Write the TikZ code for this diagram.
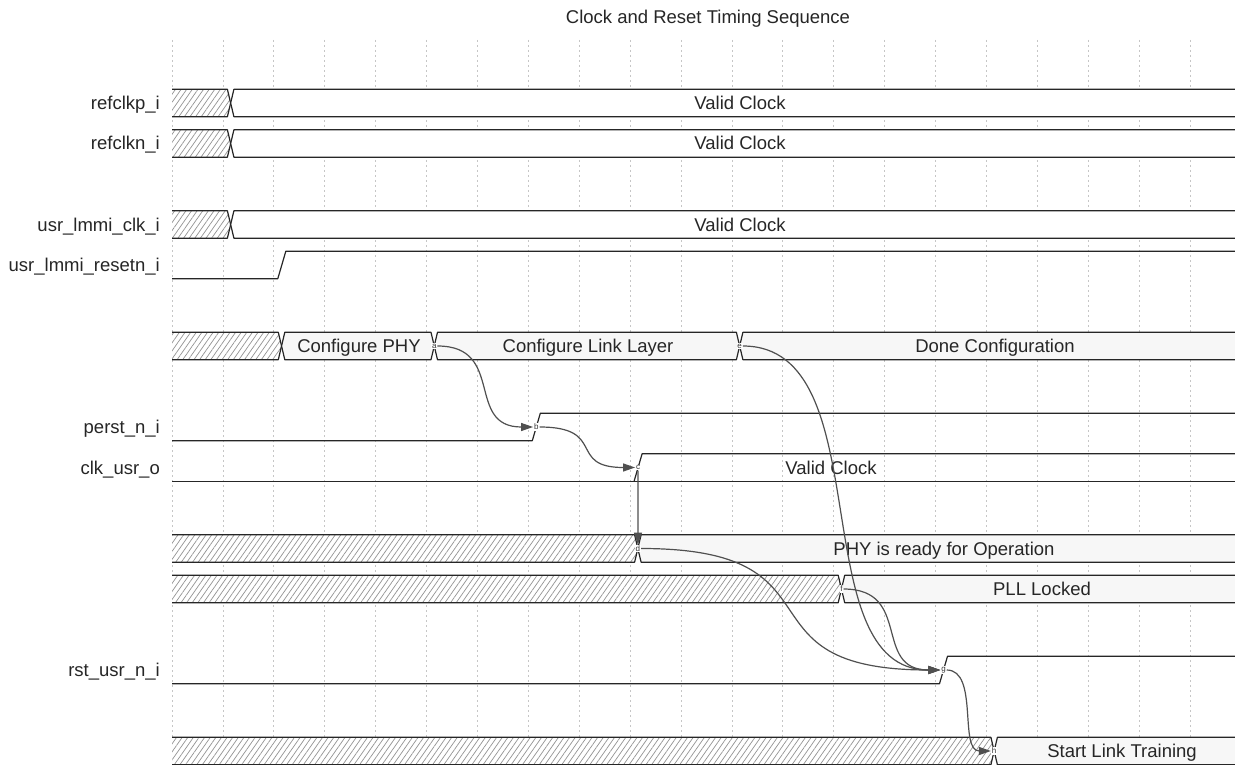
\documentclass[tikz,border=0pt]{standalone}
\usepackage{fontspec}
\setmainfont{Liberation Sans}
\usetikzlibrary{patterns.meta,arrows.meta,calc}
\definecolor{busfill}{RGB}{247,247,247}
\definecolor{arccol}{RGB}{80,80,80}
\tikzset{
  sig/.style={line width=1.2pt, draw=black!85, line join=round},
  gridline/.style={draw=gray!45, line width=0.8pt, dash pattern=on 2pt off 3pt},
  hatch/.style={preaction={fill=white}, pattern={Lines[angle=55,distance=4.6pt,line width=0.7pt]}, pattern color=gray!85},
  lbl/.style={font=\fontsize{18.5}{20}\selectfont, text=black!85, inner sep=0pt, anchor=base},
  siglbl/.style={lbl, anchor=base east},
  arc/.style={draw=arccol, line width=1.2pt, -{Triangle[length=12pt,width=8pt]}},
  pt/.style={font=\fontsize{8}{8}\selectfont, fill=white, inner sep=0.8pt, text=black!80},
}
% hatched segment from the left edge to the transition at grid x #2, row centre #1
\newcommand\hseg[2]{%
  \path[hatch] (172,#1-13.7) -- (#2+4.5,#1-13.7) -- (#2+7.75,#1) -- (#2+4.5,#1+13.7) -- (172,#1+13.7) -- cycle;
  \draw[sig] (172,#1-13.7) -- (#2+4.5,#1-13.7) -- (#2+7.75,#1) -- (#2+4.5,#1+13.7) -- (172,#1+13.7);
}
% data segment, row centre #1, from transition at grid #2 to transition at grid #3, fill #4
\newcommand\dseg[4]{%
  \path[sig, fill=#4] (#2+7.75,#1) -- (#2+11,#1-13.7) -- (#3+4.5,#1-13.7) -- (#3+7.75,#1) -- (#3+4.5,#1+13.7) -- (#2+11,#1+13.7) -- cycle;
}
\newcommand\wave[2]{%
  \draw[arc] let \p1=(#1), \p2=(#2) in (#1) .. controls ({\x1+0.7*(\x2-\x1)},\y1) and ({\x1+0.3*(\x2-\x1)},\y2) .. (#2);
}
\begin{document}
\begin{tikzpicture}[x=1pt,y=-1pt]
\clip (0,0) rectangle (1235,765);
\fill[white] (0,0) rectangle (1235,765);
% grid
\foreach \k in {0,...,21} {
  \draw[gridline] ({172+50.9*\k},40) -- ({172+50.9*\k},765);
}
% title
\node[lbl] (title) at (708,23.5) {Clock and Reset Timing Sequence};
% signal names
\node[siglbl] (l0) at (160,109.5) {refclkp\_i};
\node[siglbl] (l1) at (160,150) {refclkn\_i};
\node[siglbl] (l3) at (160,231) {usr\_lmmi\_clk\_i};
\node[siglbl] (l4) at (160,271.5) {usr\_lmmi\_resetn\_i};
\node[siglbl] (l8) at (160,433.5) {perst\_n\_i};
\node[siglbl] (l9) at (160,474) {clk\_usr\_o};
\node[siglbl] (l14) at (160,676.5) {rst\_usr\_n\_i};
% refclkp_i
\hseg{103}{222.9}
\dseg{103}{222.9}{1250}{white}
\node[lbl] (t0) at (740,109.5) {Valid Clock};
% refclkn_i
\hseg{143.5}{222.9}
\dseg{143.5}{222.9}{1250}{white}
\node[lbl] (t1) at (740,150) {Valid Clock};
% usr_lmmi_clk_i
\hseg{224.5}{222.9}
\dseg{224.5}{222.9}{1250}{white}
\node[lbl] (t3) at (740,231) {Valid Clock};
% usr_lmmi_resetn_i
\draw[sig] (172,278.7) -- (277.8,278.7) -- (285.8,251.3) -- (1250,251.3);
% configuration bus
\hseg{346}{273.8}
\dseg{346}{273.8}{426.5}{busfill}
\dseg{346}{426.5}{731.9}{busfill}
\dseg{346}{731.9}{1250}{busfill}
\node[lbl] (t6a) at (359,352.5) {Configure PHY};
\node[lbl] (t6b) at (588,352.5) {Configure Link Layer};
\node[lbl] (t6c) at (995,352.5) {Done Configuration};
% perst_n_i
\draw[sig] (172,440.7) -- (532.3,440.7) -- (540.3,413.3) -- (1250,413.3);
% clk_usr_o
\draw[sig] (172,481.2) -- (1250,481.2);
\draw[sig] (634.1,481.2) -- (642.1,453.8) -- (1250,453.8);
\node[lbl] (t9) at (831,474) {Valid Clock};
% PHY ready
\hseg{548.5}{630.1}
\dseg{548.5}{630.1}{1250}{busfill}
\node[lbl] (t11) at (944,555) {PHY is ready for Operation};
% PLL locked
\hseg{589}{833.7}
\dseg{589}{833.7}{1250}{busfill}
\node[lbl] (t12) at (1042,595.5) {PLL Locked};
% rst_usr_n_i
\draw[sig] (172,683.7) -- (939.5,683.7) -- (947.5,656.3) -- (1250,656.3);
% start link training
\hseg{751}{986.4}
\dseg{751}{986.4}{1250}{busfill}
\node[lbl] (t16) at (1122,757.5) {Start Link Training};
% event markers
\node[pt] (a) at (434.25,346) {a};
\node[pt] (b) at (536.3,427) {b};
\node[pt] (c) at (638.1,467.5) {c};
\node[pt] (d) at (637.9,548.5) {d};
\node[pt] (e) at (739.65,346) {e};
\node[pt] (f) at (841.45,589) {f};
\node[pt] (g) at (943.5,670) {g};
\node[pt] (h) at (994.15,751) {h};
% arcs
\wave{a}{b}
\wave{b}{c}
\draw[arc] (c) -- (d);
\wave{d}{g}
\wave{e}{g}
\wave{f}{g}
\wave{g}{h}
\end{tikzpicture}
\end{document}
